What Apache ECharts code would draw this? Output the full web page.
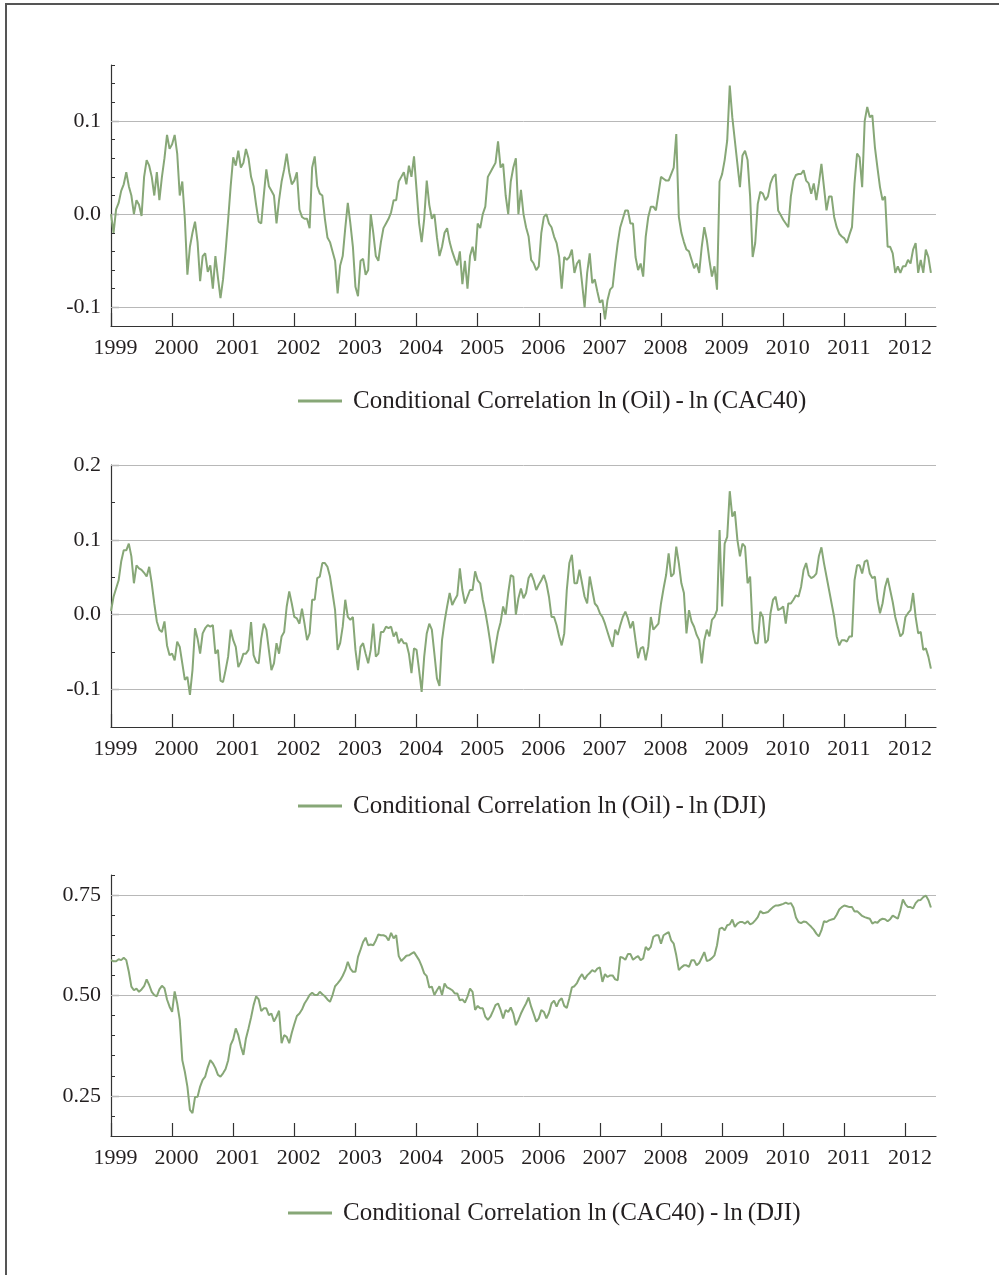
<!DOCTYPE html>
<html>
<head>
<meta charset="utf-8">
<script src="https://cdn.jsdelivr.net/npm/echarts@6/dist/echarts.min.js"></script>
<style>
html,body{margin:0;padding:0;background:#fff;}
#chart{width:999px;height:1275px;}
</style>
</head>
<body>
<div id="chart"></div>
<script>
// ---------- DATA ----------
const startYear = 1999;
const endYear = 2012.5;
const yearTicks = [1999,2000,2001,2002,2003,2004,2005,2006,2007,2008,2009,2010,2011,2012];

const seriesNames = [
  'Conditional Correlation ln\u2009(Oil)\u2009-\u2009ln\u2009(CAC40)',
  'Conditional Correlation ln\u2009(Oil)\u2009-\u2009ln\u2009(DJI)',
  'Conditional Correlation ln\u2009(CAC40)\u2009-\u2009ln\u2009(DJI)'
];

// half-monthly samples (24 per year) starting Jan 1999
const oilCac = [
  0.0,-0.02,0.005,0.012,0.025,0.032,0.045,0.03,0.02,0.0,0.015,0.01,-0.002,0.04,0.058,0.052,0.04,0.02,0.045,0.015,0.04,0.06,0.085,0.07,
  0.075,0.085,0.065,0.02,0.035,-0.005,-0.065,-0.035,-0.02,-0.008,-0.03,-0.072,-0.045,-0.042,-0.062,-0.055,-0.08,-0.045,-0.068,-0.09,-0.07,-0.04,-0.006,0.03,
  0.061,0.052,0.068,0.05,0.055,0.07,0.06,0.04,0.03,0.01,-0.008,-0.01,0.02,0.048,0.03,0.025,0.02,-0.01,0.015,0.035,0.048,0.065,0.045,0.032,
  0.036,0.045,0.005,-0.003,-0.005,-0.005,-0.015,0.05,0.062,0.03,0.022,0.02,-0.005,-0.025,-0.03,-0.04,-0.05,-0.085,-0.055,-0.045,-0.015,0.012,-0.01,-0.035,
  -0.078,-0.088,-0.05,-0.048,-0.065,-0.06,0.0,-0.02,-0.045,-0.05,-0.03,-0.015,-0.01,-0.005,0.002,0.015,0.015,0.035,0.04,0.045,0.032,0.052,0.04,0.062,
  0.026,-0.01,-0.03,-0.005,0.036,0.01,-0.005,0.0,-0.025,-0.045,-0.035,-0.02,-0.015,-0.03,-0.04,-0.048,-0.055,-0.04,-0.075,-0.05,-0.08,-0.045,-0.035,-0.05,
  -0.01,-0.015,0.0,0.008,0.04,0.045,0.05,0.055,0.078,0.05,0.054,0.02,0.0,0.035,0.05,0.06,0.0,0.026,0.0,-0.014,-0.024,-0.049,-0.053,-0.06,
  -0.056,-0.02,-0.003,0.0,-0.01,-0.014,-0.024,-0.031,-0.046,-0.08,-0.046,-0.049,-0.046,-0.038,-0.063,-0.053,-0.049,-0.074,-0.1,-0.063,-0.042,-0.074,-0.07,-0.083,
  -0.095,-0.092,-0.113,-0.092,-0.081,-0.078,-0.053,-0.031,-0.014,-0.005,0.004,0.004,-0.01,-0.01,-0.046,-0.06,-0.053,-0.067,-0.024,-0.003,0.008,0.008,0.004,0.022,
  0.04,0.038,0.036,0.036,0.043,0.05,0.086,-0.003,-0.02,-0.03,-0.038,-0.04,-0.049,-0.058,-0.053,-0.063,-0.035,-0.014,-0.028,-0.049,-0.067,-0.056,-0.081,0.035,
  0.043,0.058,0.079,0.138,0.104,0.079,0.054,0.029,0.063,0.068,0.058,0.019,-0.046,-0.031,0.011,0.024,0.022,0.015,0.019,0.033,0.04,0.043,0.004,-0.001,
  -0.006,-0.01,-0.014,0.019,0.036,0.042,0.043,0.043,0.047,0.036,0.033,0.022,0.033,0.015,0.033,0.054,0.029,0.004,0.019,0.019,-0.003,-0.014,-0.021,-0.024,
  -0.026,-0.031,-0.022,-0.014,0.033,0.065,0.061,0.029,0.1,0.115,0.104,0.106,0.072,0.05,0.029,0.015,0.019,-0.035,-0.035,-0.042,-0.063,-0.056,-0.063,-0.056,
  -0.056,-0.049,-0.053,-0.038,-0.031,-0.063,-0.049,-0.063,-0.038,-0.046,-0.063
];

const oilDji = [
  0.005,0.024,0.035,0.046,0.071,0.086,0.086,0.095,0.078,0.042,0.066,0.062,0.06,0.056,0.051,0.064,0.042,0.015,-0.009,-0.02,-0.023,-0.009,-0.041,-0.054,
  -0.052,-0.061,-0.036,-0.043,-0.065,-0.087,-0.083,-0.107,-0.074,-0.018,-0.032,-0.052,-0.025,-0.018,-0.014,-0.016,-0.014,-0.052,-0.047,-0.088,-0.09,-0.074,-0.056,-0.02,
  -0.034,-0.043,-0.07,-0.063,-0.052,-0.052,-0.047,-0.01,-0.054,-0.063,-0.065,-0.032,-0.012,-0.02,-0.047,-0.074,-0.065,-0.038,-0.052,-0.029,-0.023,0.011,0.031,0.015,
  -0.003,-0.005,-0.012,0.008,-0.012,-0.034,-0.025,0.02,0.02,0.049,0.051,0.069,0.069,0.064,0.051,0.029,0.006,-0.047,-0.038,-0.016,0.02,-0.003,-0.007,-0.003,
  -0.047,-0.074,-0.043,-0.038,-0.052,-0.065,-0.047,-0.012,-0.056,-0.052,-0.023,-0.023,-0.016,-0.018,-0.016,-0.029,-0.023,-0.038,-0.032,-0.038,-0.038,-0.052,-0.078,-0.045,
  -0.047,-0.074,-0.103,-0.056,-0.025,-0.012,-0.02,-0.052,-0.085,-0.095,-0.034,-0.009,0.011,0.029,0.013,0.02,0.026,0.062,0.033,0.015,0.024,0.033,0.033,0.058,
  0.046,0.042,0.02,0.004,-0.016,-0.038,-0.065,-0.043,-0.023,-0.01,0.011,0.0,0.029,0.053,0.051,0.0,0.022,0.035,0.022,0.029,0.049,0.055,0.046,0.033,
  0.04,0.046,0.053,0.042,0.024,-0.003,-0.003,-0.014,-0.029,-0.041,-0.025,0.033,0.069,0.08,0.042,0.042,0.06,0.042,0.024,0.015,0.051,0.033,0.015,0.011,
  0.002,-0.003,-0.012,-0.023,-0.034,-0.043,-0.02,-0.027,-0.014,-0.003,0.004,-0.005,-0.018,-0.009,-0.034,-0.058,-0.045,-0.043,-0.061,-0.043,-0.003,-0.02,-0.016,-0.012,
  0.015,0.035,0.053,0.082,0.051,0.055,0.091,0.069,0.042,0.029,-0.025,0.006,-0.009,-0.016,-0.027,-0.034,-0.065,-0.034,-0.02,-0.029,-0.007,-0.003,0.006,0.113,
  0.011,0.095,0.104,0.165,0.131,0.138,0.1,0.078,0.095,0.091,0.042,0.051,-0.02,-0.038,-0.038,0.004,-0.003,-0.038,-0.034,0.002,0.02,0.024,0.006,0.008,
  0.011,-0.012,0.015,0.015,0.02,0.026,0.024,0.037,0.06,0.069,0.053,0.049,0.051,0.055,0.078,0.09,0.069,0.051,0.033,0.015,-0.003,-0.029,-0.041,-0.034,
  -0.034,-0.036,-0.029,-0.029,0.046,0.066,0.066,0.055,0.071,0.073,0.055,0.049,0.051,0.02,0.002,0.015,0.037,0.049,0.033,0.017,-0.003,-0.016,-0.029,-0.025,
  -0.003,0.002,0.006,0.029,-0.003,-0.025,-0.023,-0.047,-0.045,-0.056,-0.072
];

// half-monthly samples (24 per year) starting Jan 1999
const cacDji = [
  0.588,0.585,0.585,0.59,0.588,0.594,0.588,0.559,0.522,0.513,0.517,0.509,0.515,0.523,0.54,0.526,0.509,0.501,0.498,0.515,0.524,0.518,0.49,0.472,
  0.459,0.51,0.48,0.439,0.339,0.31,0.273,0.215,0.207,0.247,0.248,0.273,0.29,0.298,0.321,0.339,0.331,0.319,0.302,0.298,0.306,0.317,0.338,0.377,
  0.391,0.418,0.401,0.373,0.352,0.393,0.418,0.445,0.476,0.498,0.49,0.461,0.468,0.468,0.451,0.455,0.435,0.447,0.462,0.381,0.401,0.397,0.381,0.407,
  0.429,0.449,0.455,0.465,0.48,0.49,0.501,0.507,0.501,0.501,0.509,0.503,0.498,0.49,0.484,0.501,0.523,0.53,0.538,0.549,0.563,0.584,0.567,0.559,
  0.559,0.596,0.614,0.633,0.644,0.625,0.627,0.625,0.637,0.652,0.65,0.65,0.647,0.637,0.656,0.642,0.65,0.598,0.586,0.592,0.599,0.6,0.604,0.608,
  0.598,0.588,0.573,0.555,0.548,0.52,0.522,0.501,0.513,0.523,0.501,0.53,0.52,0.517,0.513,0.505,0.505,0.488,0.49,0.482,0.497,0.517,0.509,0.464,
  0.474,0.468,0.468,0.447,0.439,0.447,0.461,0.476,0.48,0.464,0.443,0.464,0.459,0.47,0.455,0.426,0.439,0.455,0.468,0.48,0.495,0.472,0.454,0.435,
  0.443,0.464,0.459,0.443,0.457,0.48,0.487,0.472,0.487,0.493,0.474,0.469,0.493,0.52,0.523,0.531,0.544,0.553,0.54,0.55,0.556,0.563,0.559,0.567,
  0.57,0.534,0.553,0.546,0.55,0.55,0.54,0.538,0.596,0.594,0.589,0.603,0.603,0.589,0.594,0.598,0.588,0.592,0.621,0.613,0.621,0.646,0.65,0.65,
  0.629,0.65,0.654,0.658,0.637,0.629,0.6,0.563,0.57,0.575,0.575,0.571,0.588,0.588,0.575,0.581,0.594,0.608,0.586,0.588,0.593,0.6,0.625,0.666,
  0.669,0.662,0.675,0.677,0.689,0.671,0.679,0.683,0.683,0.679,0.685,0.677,0.68,0.687,0.695,0.71,0.705,0.706,0.708,0.714,0.72,0.724,0.724,0.726,
  0.728,0.731,0.728,0.73,0.719,0.694,0.683,0.68,0.684,0.683,0.677,0.671,0.664,0.654,0.647,0.662,0.685,0.683,0.687,0.689,0.691,0.701,0.714,0.72,
  0.724,0.722,0.72,0.72,0.709,0.71,0.704,0.698,0.695,0.693,0.691,0.679,0.683,0.681,0.688,0.691,0.69,0.685,0.69,0.699,0.695,0.691,0.712,0.739,
  0.727,0.72,0.72,0.717,0.73,0.737,0.738,0.745,0.749,0.738,0.719
];

const samplesPerYear = [24, 24, 24];

const yMajors1 = [-0.1, 0.0, 0.1];
const yMinors1 = [-0.12,-0.1,-0.08,-0.06,-0.04,-0.02,0,0.02,0.04,0.06,0.08,0.1,0.12,0.14,0.16];
const yMajors2 = [-0.1, 0.0, 0.1, 0.2];
const yMinors2 = [-0.15,-0.1,-0.05,0,0.05,0.1,0.15,0.2];
const yMajors3 = [0.25, 0.5, 0.75];
const yMinors3 = [0.15,0.2,0.25,0.3,0.35,0.4,0.45,0.5,0.55,0.6,0.65,0.7,0.75,0.8];

// ---------- LAYOUT / STYLE ----------
const LINE_COLOR = '#87a777';
const AXIS_COLOR = '#333';
const GRID_COLOR = '#b8b8b8';
const FONT = '"Liberation Serif", "Times New Roman", serif';

const panels = [
  {values: oilCac, per: samplesPerYear[0], min: -0.12, max: 0.16, majors: yMajors1, minors: yMinors1, dec: 1, top: 65, height: 261, legLeft: 293, legTop: 383},
  {values: oilDji, per: samplesPerYear[1], min: -0.15, max: 0.2, majors: yMajors2, minors: yMinors2, dec: 1, top: 465, height: 262, legLeft: 293, legTop: 788},
  {values: cacDji, per: samplesPerYear[2], min: 0.15, max: 0.8, majors: yMajors3, minors: yMinors3, dec: 2, top: 875, height: 261, legLeft: 283, legTop: 1195}
];

const grids = [], xAxes = [], yAxes = [], series = [], legends = [];
panels.forEach((p, i) => {
  grids.push({left: 111, width: 825, top: p.top, height: p.height, containLabel: false});
  xAxes.push({
    gridIndex: i, type: 'value', min: startYear, max: endYear,
    axisLine: {show: true, onZero: false, lineStyle: {color: AXIS_COLOR, width: 1.2}},
    axisTick: {show: true, inside: true, length: 13, customValues: yearTicks, lineStyle: {color: AXIS_COLOR, width: 1.2}},
    axisLabel: {show: true, customValues: yearTicks, formatter: v => String(Math.round(v)),
      fontFamily: FONT, fontSize: 22, color: '#231f20', margin: 11, padding: [0, 0, 0, 9]},
    splitLine: {show: false}
  });
  yAxes.push({
    gridIndex: i, type: 'value', min: p.min, max: p.max, position: 'left',
    axisLine: {show: true, onZero: false, lineStyle: {color: AXIS_COLOR, width: 1.2}},
    axisTick: {show: true, inside: true, length: 4, customValues: p.minors, lineStyle: {color: AXIS_COLOR, width: 1}},
    axisLabel: {show: true, customValues: p.majors, formatter: v => v.toFixed(p.dec),
      fontFamily: FONT, fontSize: 22, color: '#231f20', margin: 10},
    splitLine: {show: false}
  });
  yAxes.push({
    gridIndex: i, type: 'value', min: p.min, max: p.max, position: 'left',
    axisLine: {show: false},
    axisTick: {show: true, inside: true, length: 8, customValues: p.majors, lineStyle: {color: AXIS_COLOR, width: 1.2}},
    axisLabel: {show: false},
    splitLine: {show: false}
  });
  series.push({
    name: seriesNames[i], type: 'line', xAxisIndex: i, yAxisIndex: 2 * i,
    data: p.values.map((v, k) => [startYear + k / p.per, v]),
    showSymbol: false, symbol: 'none', color: LINE_COLOR, z: 3,
    itemStyle: {color: LINE_COLOR},
    lineStyle: {color: LINE_COLOR, width: 2},
    markLine: {
      silent: true, symbol: 'none', z: 1, animation: false,
      label: {show: false},
      lineStyle: {color: GRID_COLOR, type: 'solid', width: 1},
      emphasis: {disabled: true},
      data: p.majors.map(v => ({yAxis: v}))
    }
  });
  legends.push({
    data: [seriesNames[i]], left: p.legLeft, top: p.legTop,
    icon: 'rect', itemWidth: 44, itemHeight: 3,
    selectedMode: false,
    textStyle: {fontFamily: FONT, fontSize: 25, color: '#231f20', lineHeight: 26, padding: [0, 0, 0, 6]}
  });
});

const chart = echarts.init(document.getElementById('chart'), null, {renderer: 'canvas'});
chart.setOption({
  animation: false,
  backgroundColor: '#ffffff',
  grid: grids,
  xAxis: xAxes,
  yAxis: yAxes,
  legend: legends,
  series: series,
  graphic: [{
    type: 'polyline', silent: true,
    shape: {points: [[6, 1275], [6, 4], [999, 4]]},
    style: {stroke: '#555', lineWidth: 2, fill: null}
  }]
});
</script>
</body>
</html>
